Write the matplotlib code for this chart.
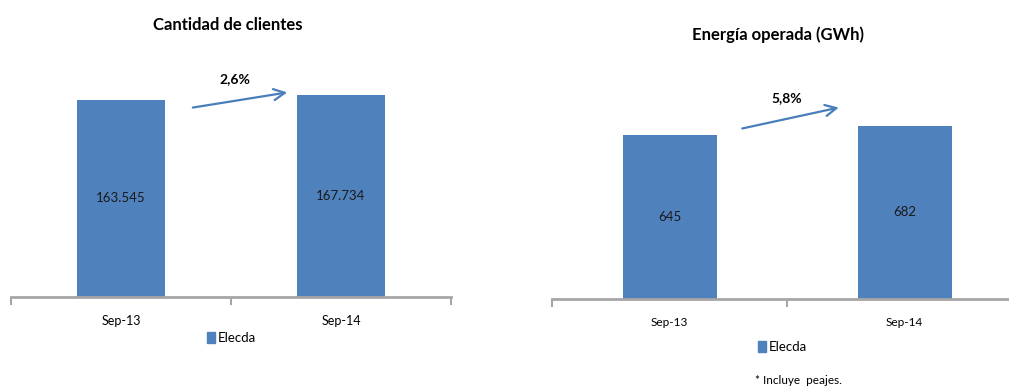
import matplotlib
matplotlib.use("Agg")
import matplotlib.pyplot as plt
from matplotlib.patches import Patch

plt.rcParams['font.family'] = ['Lato', 'DejaVu Sans']

# datos
periodos = ['Sep-13', 'Sep-14']
clientes = [163545, 167734]
clientes_txt = ['163.545', '167.734']
energia = [645, 682]
energia_txt = ['645', '682']
var_clientes = '2,6%'
var_energia = '5,8%'
serie = 'Elecda'

azul = '#4f81bd'
gris = '#a6a6a6'

W, H = 1009, 387
fig = plt.figure(figsize=(W / 100, H / 100), dpi=100)


def px_axes(x0, x1, ytop, ybot):
    return fig.add_axes([x0 / W, 1 - ybot / H, (x1 - x0) / W, (ybot - ytop) / H])


def panel(ax, valores, textos, ymax, fs_tick, fs_val):
    x = range(len(periodos))
    ax.bar(x, valores, width=0.4, color=azul, zorder=2)
    for xi, v, t in zip(x, valores, textos):
        ax.text(xi, v / 2, t, ha='center', va='center', fontsize=fs_val, color='#1a1a1a')
    ax.set_xlim(-0.5, len(periodos) - 0.5)
    ax.set_ylim(0, ymax)
    for s in ['top', 'right', 'left']:
        ax.spines[s].set_visible(False)
    ax.spines['bottom'].set_color(gris)
    ax.spines['bottom'].set_linewidth(2)
    ax.set_yticks([])
    ax.set_xticks(list(x))
    ax.set_xticklabels(periodos, fontsize=fs_tick)
    ax.tick_params(axis='x', which='major', length=0, pad=13)
    ax.set_xticks([-0.5, 0.5, 1.5], minor=True)
    ax.tick_params(axis='x', which='minor', length=6, width=1.5, color=gris, direction='out')


# Cantidad de clientes
ax1 = px_axes(11, 451, 56, 297)
panel(ax1, clientes, clientes_txt, 200000, 9, 9.5)
ax1.annotate('', xy=(0.768, 170124), xytext=(0.314, 156846),
             arrowprops=dict(arrowstyle='->', color='#4a7ebb', lw=1.6, mutation_scale=20))
ax1.text(0.518, 180913, var_clientes, ha='center', va='center', fontsize=10, fontweight='bold')
ax1.legend([Patch(color=azul)], [serie], loc='center', bbox_to_anchor=(0.502, -0.17),
           frameon=False, fontsize=9.5, handlelength=0.6, handleheight=0.9, handletextpad=0.2)
fig.text(228 / W, 1 - 25 / H, 'Cantidad de clientes', ha='center', va='center',
         fontsize=12, fontweight='bold')

# Energía operada
ax2 = px_axes(552, 1022, 45, 299)
panel(ax2, energia, energia_txt, 1000, 8.5, 9.5)
ax2.annotate('', xy=(0.732, 756), xytext=(0.298, 669),
             arrowprops=dict(arrowstyle='->', color='#4a7ebb', lw=1.6, mutation_scale=20))
ax2.text(0.498, 791, var_energia, ha='center', va='center', fontsize=10, fontweight='bold')
ax2.legend([Patch(color=azul)], [serie], loc='center', bbox_to_anchor=(0.49, -0.189),
           frameon=False, fontsize=9.5, handlelength=0.6, handleheight=0.9, handletextpad=0.2)
fig.text(778 / W, 1 - 35 / H, 'Energía operada (GWh)', ha='center', va='center',
         fontsize=12, fontweight='bold')

fig.text(798 / W, 1 - 380 / H, '* Incluye  peajes.', ha='center', va='center', fontsize=8.5)

fig.savefig('out.png', dpi=100)
